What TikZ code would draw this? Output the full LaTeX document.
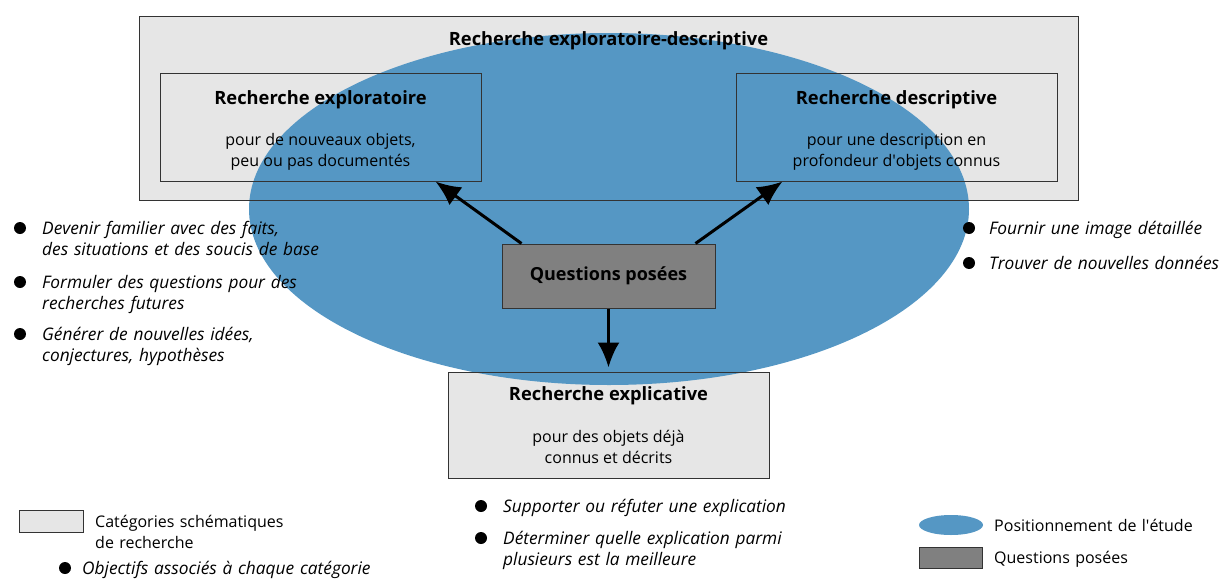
\documentclass[tikz,border=0pt]{standalone}
\usepackage{fontspec}
\setmainfont{Open Sans}
\usetikzlibrary{arrows.meta,positioning,shapes.geometric}
\definecolor{boxgray}{HTML}{E6E6E6}
\definecolor{qgray}{HTML}{808080}
\definecolor{etudeblue}{HTML}{5597C4}
\definecolor{edge}{HTML}{333333}
\pgfdeclarelayer{fond}
\pgfdeclarelayer{milieu}
\pgfsetlayers{fond,milieu,main}
\begin{document}
\begin{tikzpicture}[x=1pt, y=-1pt,
    % Styles
    every node/.style={font=\fontsize{16}{21}\selectfont},
    categorie/.style={draw=edge, line width=1pt, align=center, font=\fontsize{16}{21}\selectfont},
    titre/.style={font=\fontsize{18.3}{21}\selectfont\bfseries},
    questions/.style={draw=edge, line width=1pt, fill=qgray, minimum width=213pt, minimum height=64pt, font=\fontsize{18}{21}\selectfont\bfseries},
    fleche/.style={-{Latex[length=25pt,width=22pt]}, line width=3pt},
    puce/.style={circle, fill=black, inner sep=0pt, minimum size=12pt},
    objectif/.style={font=\fontsize{17.3}{21}\selectfont\itshape, text width=330pt, align=left, inner sep=0pt, anchor=base west},
    legende/.style={text width=260pt, align=left, inner sep=0pt, anchor=base west},
]
\useasboundingbox (0,0) rectangle (1221,581);

% Categories
\node[categorie, minimum width=939pt, minimum height=184pt] (expdesc) at (608.5,108) {};
\node[titre] (expdesctitre) at (608.5,40.5) {Recherche exploratoire-descriptive};

\node[categorie, minimum width=321pt, minimum height=108pt] (explo) at (320.5,127)
    {\rule{0pt}{21pt}{\fontsize{18.3}{21}\selectfont\bfseries Recherche exploratoire}\\[20pt]pour de nouveaux objets,\\peu ou pas documentés};
\node[categorie, minimum width=321pt, minimum height=108pt] (descr) at (896.5,127)
    {\rule{0pt}{21pt}{\fontsize{18.3}{21}\selectfont\bfseries Recherche descriptive}\\[20pt]pour une description en\\profondeur d\textquotesingle objets connus};
\node[categorie, minimum width=321pt, minimum height=106pt] (explic) at (608.5,425)
    {{\fontsize{18.3}{21}\selectfont\bfseries Recherche explicative}\\[21pt]pour des objets déjà\\connus et décrits};

% Fond gris puis positionnement de l'etude
\begin{pgfonlayer}{fond}
    \fill[boxgray] (expdesc.south west) rectangle (expdesc.north east);
    \fill[boxgray] (explic.south west) rectangle (explic.north east);
\end{pgfonlayer}
\begin{pgfonlayer}{milieu}
    \node[ellipse, fill=etudeblue, minimum width=720pt, minimum height=352pt, inner sep=0pt] (etude) at (609,209) {};
\end{pgfonlayer}

% Questions posees
\node[questions] (q) at (608.5,276) {Questions posées};

\draw[fleche] ([xshift=20pt]q.north west) -- ([xshift=-46pt]explo.south east);
\draw[fleche] ([xshift=-20pt]q.north east) -- ([xshift=47pt]descr.south west);
\draw[fleche] (q.south) -- ([yshift=4pt]explic.north);

% Objectifs : exploratoire
\node[puce] (p1) at (20,228) {};
\node[objectif] (o1) at (42,234) {Devenir familier avec des faits,\\des situations et des soucis de base};
\node[puce] (p2) at (20,282) {};
\node[objectif] (o2) at (42,288) {Formuler des questions pour des\\recherches futures};
\node[puce] (p3) at (20,334) {};
\node[objectif] (o3) at (42,340) {Générer de nouvelles idées,\\conjectures, hypothèses};

% Objectifs : descriptive
\node[puce] (p4) at (969,228) {};
\node[objectif] (o4) at (989,234) {Fournir une image détaillée};
\node[puce] (p5) at (969,263) {};
\node[objectif] (o5) at (989,269) {Trouver de nouvelles données};

% Objectifs : explicative
\node[puce] (p6) at (481,506) {};
\node[objectif] (o6) at (503,512) {Supporter ou réfuter une explication};
\node[puce] (p7) at (481,538) {};
\node[objectif] (o7) at (503,544) {Déterminer quelle explication parmi\\plusieurs est la meilleure};

% Legende
\node[draw=edge, line width=1pt, fill=boxgray, minimum width=64pt, minimum height=22pt] (legcat) at (51,521) {};
\node[legende] (legcattxt) at (95,527) {Catégories schématiques\\de recherche};
\node[puce] (legpuce) at (65,568) {};
\node[objectif] (legpucetxt) at (82,574) {Objectifs associés à chaque catégorie};

\node[ellipse, fill=etudeblue, minimum width=64pt, minimum height=20pt, inner sep=0pt] (legetude) at (951,525) {};
\node[legende] (legetudetxt) at (994,531) {Positionnement de l\textquotesingle étude};
\node[draw=edge, line width=1pt, fill=qgray, minimum width=63pt, minimum height=21pt] (legq) at (950.5,557.5) {};
\node[legende] (legqtxt) at (994,563.5) {Questions posées};
\end{tikzpicture}
\end{document}
